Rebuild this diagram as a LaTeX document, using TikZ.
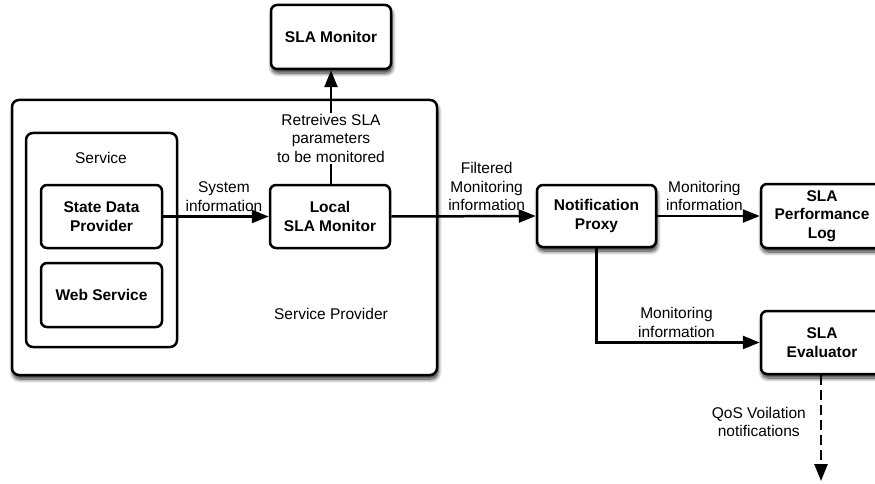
\documentclass[tikz,border=0pt]{standalone}
\usepackage{fontspec}
\setmainfont{Liberation Sans}
\usetikzlibrary{arrows.meta,shadows.blur}

\begin{document}
\begin{tikzpicture}[x=1pt,y=-1pt,
  every node/.style={inner sep=2pt},
  txt/.style={font=\fontsize{15.5}{18.5}\selectfont, align=center},
  softshadow/.style={blur shadow={shadow xshift=1pt, shadow yshift=-4pt,
      shadow blur steps=8, shadow blur radius=4pt, shadow opacity=85}},
  box/.style={draw, line width=2.5pt, rounded corners=6pt, fill=white, align=center,
      font=\bfseries\fontsize{15.5}{18.5}\selectfont},
  group/.style={draw, line width=2.5pt, rounded corners=7pt, fill=white},
  conn/.style={line width=2.5pt, -{Triangle[length=17pt,width=13pt]}},
]
\useasboundingbox (0,0) rectangle (875,484);
\clip (0,0) rectangle (875,484);

% containers
\node[group, softshadow, minimum width=425pt, minimum height=275pt] (provider) at (224.5,237.5) {};
\node[group, minimum width=151pt, minimum height=214pt] (service) at (101.5,240) {};
\node[txt] (servicelbl) at (101,158) {Service};
\node[txt] (providerlbl) at (331,314) {Service Provider};

% components inside the provider
\node[box, minimum width=121pt, minimum height=63pt] (sdp) at (101.5,216.5) {State Data\\Provider};
\node[box, minimum width=121pt, minimum height=64pt] (ws) at (101.5,295) {Web Service};
\node[box, minimum width=120pt, minimum height=63pt] (local) at (330,216.5) {Local\\SLA Monitor};

% external components
\node[box, softshadow, minimum width=120pt, minimum height=64pt] (monitor) at (331,37) {SLA Monitor};
\node[box, softshadow, minimum width=119pt, minimum height=62pt] (proxy) at (596.5,216) {Notification\\Proxy};
\node[box, softshadow, minimum width=122pt, minimum height=64pt] (perflog) at (822,216) {SLA\\Performance\\Log};
\node[box, softshadow, minimum width=122pt, minimum height=63pt] (eval) at (822,342.5) {SLA\\Evaluator};
\coordinate (qosend) at (821,481);

% connectors
\draw[conn] (sdp.east) -- (local.west)
  node[txt, pos=0.575, above=2pt] (syslbl) {System\\information};
\draw[conn] (local.north -| monitor.south) -- (monitor.south)
  node[txt, pos=0.4, fill=white, inner sep=1pt] (retlbl) {Retreives SLA\\parameters\\to be monitored};
\draw[conn] (local.east) -- (proxy.west)
  node[txt, pos=0.66, above=2pt] (filtlbl) {Filtered\\Monitoring\\information};
\draw[conn] (proxy.east) -- (perflog.west)
  node[txt, pos=0.46, above=2pt] (monlbl1) {Monitoring\\information};
\draw[conn] (proxy.south) |- (eval.west)
  node[txt, pos=0.745, above=2pt] (monlbl2) {Monitoring\\information};
\draw[conn, dash pattern=on 10pt off 5pt] (eval.south -| qosend) -- (qosend)
  node[txt, pos=0.44, left=12pt] (qoslbl) {QoS Voilation\\notifications};
\end{tikzpicture}
\end{document}
